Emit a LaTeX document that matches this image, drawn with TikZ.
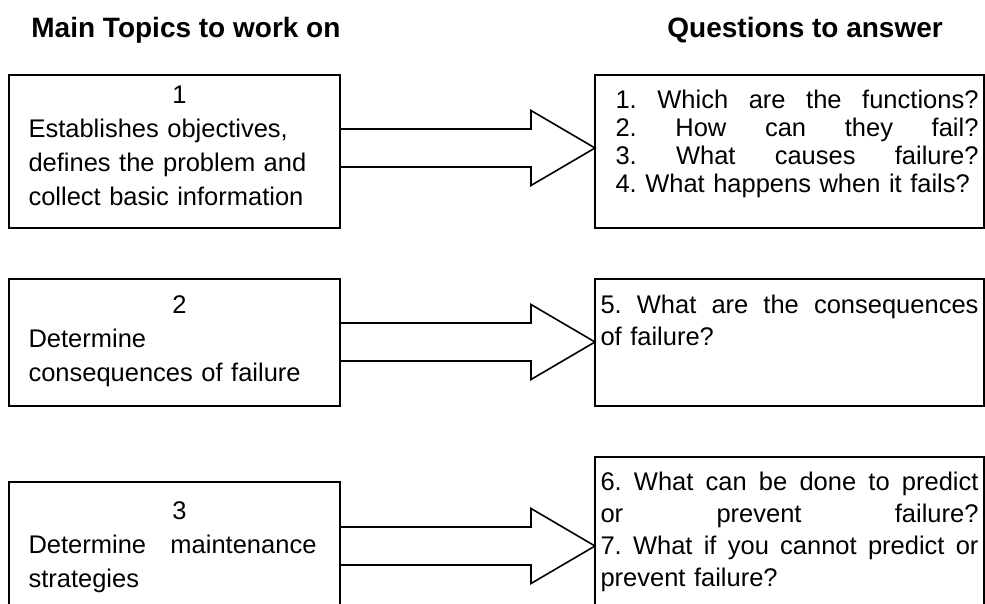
\documentclass[tikz,border=0pt]{standalone}
\usepackage{fontspec}
\setmainfont{Liberation Sans}
\usetikzlibrary{calc}
\frenchspacing
% a line stretched over the whole width, as in justified text
\newcommand\fullline[2][\linewidth]{\leavevmode\hbox to #1{\spaceskip=0.278em plus 1fil\relax#2}}

\begin{document}
\begin{tikzpicture}[x=0.5pt, y=-0.5pt,
    head/.style={font=\bfseries\fontsize{14}{17}\selectfont, anchor=base west, inner sep=0pt},
    topic/.style={draw, line width=1.1pt, anchor=north west, outer sep=0pt,
      inner xsep=0pt, inner ysep=0pt, minimum width=165.5pt, text width=146pt,
      align=left, font=\fontsize{12.75}{17}\selectfont},
    question/.style={topic, minimum width=194.5pt, text width=189pt},
    blockarrow/.style={line width=0.8pt, line join=miter}]
  \useasboundingbox (0,0) rectangle (985,604);
  \clip (0,0) rectangle (985,604);
  \fill[white] (0,0) rectangle (985,604);
  \node[head] (hmain) at (31,38) {Main Topics to work on};
  \node[head] (hquest) at (667,38) {Questions to answer};
  % topics on the left
  \node[topic, text height=14.5pt, text depth=62pt] (t1) at (9,75)
    {\makebox[\linewidth]{\hspace{5pt}1}\\Establishes objectives,\\defines the problem and\\collect basic information};
  \node[topic, text height=17.5pt, text depth=46pt] (t2) at (9,279)
    {\makebox[\linewidth]{\hspace{5pt}2}\\Determine\\consequences of failure};
  \node[topic, text height=18.5pt, text depth=50.5pt] (t3) at (9,482)
    {\makebox[\linewidth]{\hspace{5pt}3}\\\fullline[144pt]{Determine maintenance}\\strategies};
  % questions on the right
  \node[question, text height=17pt, text depth=59.5pt, font=\fontsize{12.75}{14}\selectfont] (q1) at (595,75)
    {\hspace*{7.5pt}\fullline[181.5pt]{1. Which are the functions?}\\
     \hspace*{7.5pt}\fullline[181.5pt]{2. How can they fail?}\\
     \hspace*{7.5pt}\fullline[181.5pt]{3. What causes failure?}\\
     \hspace*{7.5pt}4. What happens when it fails?};
  \node[question, text height=17.5pt, text depth=46pt, font=\fontsize{12.75}{16}\selectfont] (q2) at (595,279)
    {\fullline{5. What are the consequences}\\of failure?};
  \node[question, text height=16.5pt, text depth=65pt, font=\fontsize{12.75}{16}\selectfont] (q3) at (595,457)
    {\fullline{6. What can be done to predict}\\\fullline{or prevent failure?}\\
     \fullline{7. What if you cannot predict or}\\prevent failure?};
  % block arrows
  \foreach \i/\d in {1/36.5,2/31.5,3/32}{
    \coordinate (s\i) at ($(t\i.north east)+(0,-\d pt)$);
    \draw[blockarrow] let \p1=(s\i), \p2=(q\i.west) in
      (\x1,\y1+9.5pt) -- (\x2-32pt,\y1+9.5pt) -- (\x2-32pt,\y1+18.75pt) -- (\x2,\y1)
      -- (\x2-32pt,\y1-18.75pt) -- (\x2-32pt,\y1-9.5pt) -- (\x1,\y1-9.5pt);}
\end{tikzpicture}
\end{document}
